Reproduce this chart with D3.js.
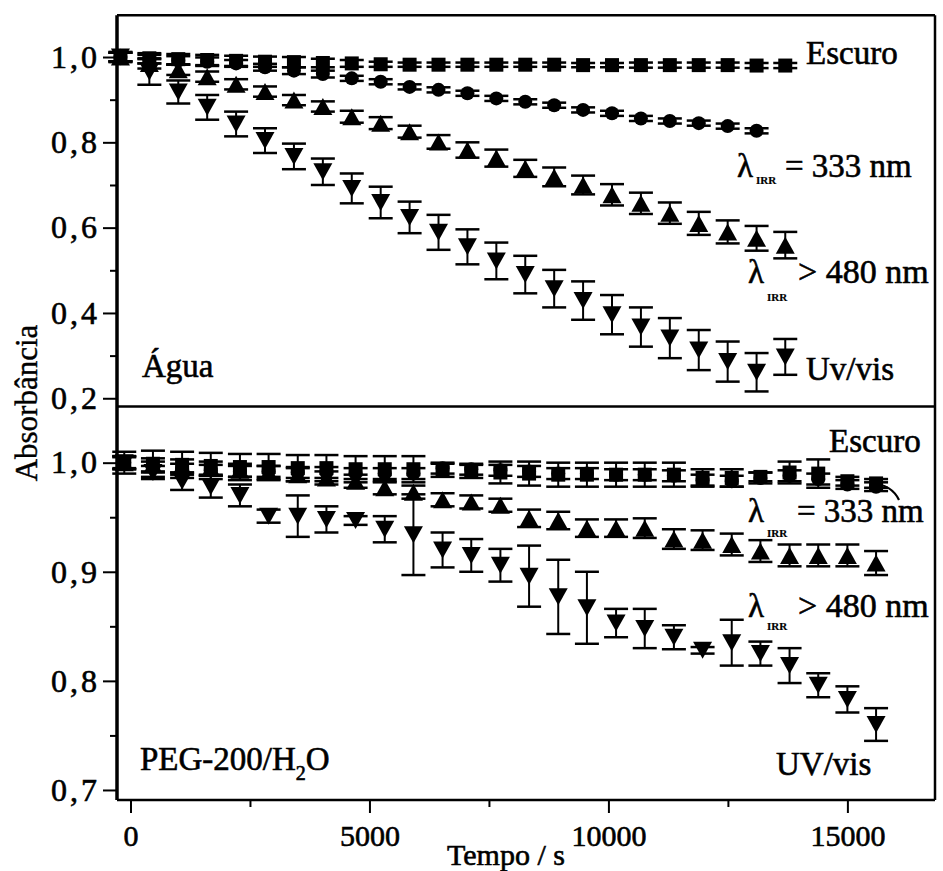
<!DOCTYPE html>
<html>
<head>
<meta charset="utf-8">
<script src="https://cdn.jsdelivr.net/npm/d3@7"></script>
<style>
  html, body { margin: 0; padding: 0; background: #fff; }
  svg { display: block; }
</style>
</head>
<body>
<svg id="chart" width="943" height="871" font-family="Liberation Serif"></svg>
<script>
// ---------- DATA ----------
// Top panel (Água)
const timeTop = [-210, 395, 1000, 1605, 2210, 2815, 3420, 4025, 4630, 5235, 5840, 6445,
  7050, 7655, 8260, 8865, 9470, 10075, 10680, 11285, 11890, 12495, 13100, 13700];
const aguaEscuro = [1.000, 0.997, 0.995, 0.993, 0.991, 0.989, 0.988, 0.986, 0.985, 0.983, 0.982, 0.982,
  0.982, 0.982, 0.982, 0.982, 0.981, 0.981, 0.981, 0.981, 0.981, 0.981, 0.980, 0.980];
const aguaEscuroErr = [0.012, 0.012, 0.012, 0.012, 0.012, 0.012, 0.012, 0.010, 0.008, 0.006, 0.005, 0.005,
  0.005, 0.005, 0.005, 0.005, 0.005, 0.005, 0.006, 0.006, 0.006, 0.006, 0.006, 0.006];
const agua333 = [1.000, 0.995, 0.992, 0.989, 0.985, 0.976, 0.968, 0.960, 0.950, 0.942, 0.930, 0.923,
  0.915, 0.903, 0.895, 0.887, 0.876, 0.868, 0.856, 0.850, 0.845, 0.838, 0.827];
const agua333Err = [0.010, 0.010, 0.010, 0.010, 0.008, 0.008, 0.008, 0.008, 0.006, 0.006, 0.006, 0.006,
  0.006, 0.006, 0.006, 0.006, 0.006, 0.006, 0.006, 0.006, 0.006, 0.006, 0.006];
const agua480 = [1.000, 0.985, 0.970, 0.954, 0.936, 0.919, 0.899, 0.884, 0.860, 0.845, 0.825, 0.801,
  0.782, 0.763, 0.739, 0.719, 0.700, 0.677, 0.657, 0.634, 0.610, 0.590, 0.575, 0.559];
const agua480Err = [0.010, 0.012, 0.012, 0.012, 0.012, 0.012, 0.012, 0.012, 0.014, 0.014, 0.014, 0.016,
  0.018, 0.020, 0.020, 0.022, 0.022, 0.025, 0.025, 0.025, 0.027, 0.027, 0.029, 0.031];
const aguaUV = [1.000, 0.965, 0.918, 0.882, 0.843, 0.804, 0.767, 0.731, 0.692, 0.659, 0.624, 0.589,
  0.555, 0.522, 0.490, 0.457, 0.429, 0.396, 0.367, 0.341, 0.313, 0.286, 0.261, 0.297];
const aguaUVErr = [0.010, 0.030, 0.027, 0.029, 0.029, 0.029, 0.030, 0.031, 0.035, 0.037, 0.037, 0.041,
  0.041, 0.043, 0.044, 0.044, 0.045, 0.046, 0.046, 0.047, 0.047, 0.047, 0.045, 0.042];

// Bottom panel (PEG-200/H2O)
const timeBottom = [-130, 470, 1080, 1680, 2290, 2890, 3500, 4100, 4710, 5320, 5920, 6530, 7130,
  7740, 8340, 8950, 9550, 10160, 10760, 11370, 11970, 12580, 13180, 13790, 14390, 15000, 15600];
const pegEscuro = [1.000, 0.999, 0.998, 0.997, 0.996, 0.996, 0.995, 0.995, 0.994, 0.994, 0.994, 0.993, 0.992,
  0.991, 0.990, 0.989, 0.989, 0.989, 0.989, 0.989, 0.986, 0.986, 0.987, 0.991, 0.990, 0.983, 0.981];
const pegEscuroErr = [0.010, 0.012, 0.012, 0.012, 0.012, 0.012, 0.012, 0.012, 0.012, 0.012, 0.012, 0.006, 0.006,
  0.010, 0.011, 0.011, 0.011, 0.011, 0.011, 0.011, 0.008, 0.008, 0.004, 0.010, 0.013, 0.004, 0.004];
const peg333 = [1.000, 0.996, 0.994, 0.993, 0.992, 0.992, 0.991, 0.991, 0.990, 0.990, 0.990, 0.995, 0.994,
  0.993, 0.992, 0.990, 0.990, 0.989, 0.989, 0.988, 0.984, 0.983, 0.986, 0.988, 0.985, 0.980, 0.978];
const peg333Err = [0.005, 0.005, 0.005, 0.005, 0.005, 0.005, 0.005, 0.005, 0.005, 0.005, 0.005, 0.005, 0.005,
  0.005, 0.005, 0.005, 0.005, 0.005, 0.005, 0.005, 0.005, 0.005, 0.005, 0.005, 0.005, 0.004, 0.004];
const peg480 = [1.000, 0.998, 0.997, 0.995, 0.993, 0.991, 0.989, 0.986, 0.983, 0.977, 0.973, 0.966, 0.964,
  0.961, 0.949, 0.947, 0.940, 0.940, 0.940, 0.930, 0.929, 0.925, 0.919, 0.915, 0.915, 0.915, 0.908];
const peg480Err = [0.006, 0.006, 0.006, 0.006, 0.006, 0.006, 0.006, 0.006, 0.006, 0.006, 0.006, 0.006, 0.006,
  0.006, 0.008, 0.008, 0.008, 0.008, 0.009, 0.009, 0.009, 0.010, 0.010, 0.010, 0.010, 0.010, 0.011];
const pegUV = [1.000, 0.991, 0.983, 0.978, 0.970, 0.951, 0.951, 0.948, 0.947, 0.939, 0.934, 0.920, 0.915,
  0.906, 0.896, 0.877, 0.867, 0.853, 0.848, 0.840, 0.828, 0.835, 0.825, 0.814, 0.796, 0.783, 0.760];
const pegUVErr = [0.006, 0.006, 0.008, 0.010, 0.010, 0.006, 0.019, 0.012, 0.004, 0.012, 0.037, 0.016, 0.015,
  0.015, 0.028, 0.034, 0.033, 0.013, 0.018, 0.011, 0.003, 0.021, 0.011, 0.016, 0.011, 0.012, 0.015];

const xTicks = [0, 5000, 10000, 15000];
const xMinorTicks = [2500, 7500, 12500];
const yTopTicks = [0.2, 0.4, 0.6, 0.8, 1.0];
const yTopMinor = [0.3, 0.5, 0.7, 0.9];
const yBotTicks = [0.7, 0.8, 0.9, 1.0];
const yBotMinor = [0.75, 0.85, 0.95];

// ---------- LAYOUT ----------
const FONT = "Liberation Serif";
const L = 117, R = 935, T = 15.3, MID = 406.5, B = 800;
const svg = d3.select("#chart");

const x = d3.scaleLinear().domain([-282, 16833]).range([L, R]);
const yTop = d3.scaleLinear().domain([0.1807, 1.0978]).range([MID, T]);
const yBot = d3.scaleLinear().domain([0.6908, 1.0515]).range([B, MID]);

const fmt = d => d3.format(".1f")(d).replace(".", ",");

function triPath(w, h, down) {
  const s = down ? -1 : 1;
  return `M0,${-s*h/2}L${w/2},${s*h/2}L${-w/2},${s*h/2}Z`;
}

function drawSeries(g, times, vals, errs, y, shape) {
  const data = vals.map((v, i) => ({ t: times[i], v, e: errs[i] }));
  const capW = 24;
  const eg = g.append("g").attr("stroke", "#000");
  eg.selectAll("line.bar").data(data).join("line")
    .attr("x1", d => x(d.t)).attr("x2", d => x(d.t))
    .attr("y1", d => y(d.v + d.e)).attr("y2", d => y(d.v - d.e))
    .attr("stroke-width", 2);
  eg.selectAll("line.capt").data(data).join("line")
    .attr("x1", d => x(d.t) - capW/2).attr("x2", d => x(d.t) + capW/2)
    .attr("y1", d => y(d.v + d.e)).attr("y2", d => y(d.v + d.e))
    .attr("stroke-width", 2.5);
  eg.selectAll("line.capb").data(data).join("line")
    .attr("x1", d => x(d.t) - capW/2).attr("x2", d => x(d.t) + capW/2)
    .attr("y1", d => y(d.v - d.e)).attr("y2", d => y(d.v - d.e))
    .attr("stroke-width", 2.5);
  const mg = g.append("g").attr("fill", "#000");
  if (shape === "square") {
    mg.selectAll("rect").data(data).join("rect")
      .attr("x", d => x(d.t) - 7).attr("y", d => y(d.v) - 7)
      .attr("width", 14).attr("height", 14);
  } else if (shape === "circle") {
    mg.selectAll("circle").data(data).join("circle")
      .attr("cx", d => x(d.t)).attr("cy", d => y(d.v)).attr("r", 7);
  } else {
    const down = shape === "down";
    mg.selectAll("path").data(data).join("path")
      .attr("d", triPath(19, 17, down))
      .attr("transform", d => `translate(${x(d.t)},${y(d.v)})`);
  }
}

// Series
const gTop = svg.append("g");
drawSeries(gTop, timeTop, aguaEscuro, aguaEscuroErr, yTop, "square");
drawSeries(gTop, timeTop, agua333, agua333Err, yTop, "circle");
drawSeries(gTop, timeTop, agua480, agua480Err, yTop, "up");
drawSeries(gTop, timeTop, aguaUV, aguaUVErr, yTop, "down");

const gBot = svg.append("g");
drawSeries(gBot, timeBottom, pegEscuro, pegEscuroErr, yBot, "square");
drawSeries(gBot, timeBottom, peg333, peg333Err, yBot, "circle");
drawSeries(gBot, timeBottom, peg480, peg480Err, yBot, "up");
drawSeries(gBot, timeBottom, pegUV, pegUVErr, yBot, "down");

// Axes
function styleAxis(g, size) {
  g.attr("font-family", FONT).attr("font-size", size);
  g.select(".domain").remove();
  g.selectAll(".tick line").attr("stroke", "#000").attr("stroke-width", 2);
  g.selectAll(".tick text").attr("font-family", FONT).attr("font-size", size)
    .attr("fill", "#000").attr("stroke", "#000").attr("stroke-width", 0.6);
}

const axTop = svg.append("g").attr("transform", `translate(${L},0)`)
  .call(d3.axisLeft(yTop).tickValues(yTopTicks).tickFormat(fmt).tickSize(14).tickPadding(3));
styleAxis(axTop, 32);
axTop.selectAll(".tick text").style("letter-spacing", "3px");
const axTopMinor = svg.append("g").attr("transform", `translate(${L},0)`)
  .call(d3.axisLeft(yTop).tickValues(yTopMinor).tickFormat("").tickSize(7));
styleAxis(axTopMinor, 10);

const axBot = svg.append("g").attr("transform", `translate(${L},0)`)
  .call(d3.axisLeft(yBot).tickValues(yBotTicks).tickFormat(fmt).tickSize(14).tickPadding(3));
styleAxis(axBot, 32);
axBot.selectAll(".tick text").style("letter-spacing", "3px");
const axBotMinor = svg.append("g").attr("transform", `translate(${L},0)`)
  .call(d3.axisLeft(yBot).tickValues(yBotMinor).tickFormat("").tickSize(7));
styleAxis(axBotMinor, 10);

const axX = svg.append("g").attr("transform", `translate(0,${B})`)
  .call(d3.axisBottom(x).tickValues(xTicks).tickFormat(d3.format("d")).tickSize(13).tickPadding(12));
styleAxis(axX, 30);
const axXMinor = svg.append("g").attr("transform", `translate(0,${B})`)
  .call(d3.axisBottom(x).tickValues(xMinorTicks).tickFormat("").tickSize(7));
styleAxis(axXMinor, 10);

// Frame
const frame = svg.append("g").attr("stroke", "#000").attr("fill", "none");
frame.append("line").attr("x1", L).attr("x2", L).attr("y1", T).attr("y2", B).attr("stroke-width", 3.5);
frame.append("line").attr("x1", R).attr("x2", R).attr("y1", T).attr("y2", B).attr("stroke-width", 2.5);
frame.append("line").attr("x1", L).attr("x2", R).attr("y1", T).attr("y2", T).attr("stroke-width", 2.5);
frame.append("line").attr("x1", L).attr("x2", R).attr("y1", MID).attr("y2", MID).attr("stroke-width", 2.5);
frame.append("line").attr("x1", L).attr("x2", R).attr("y1", B).attr("y2", B).attr("stroke-width", 2.5);

// Labels
function label(txt, px, py, size, anchor) {
  return svg.append("text").attr("x", px).attr("y", py).attr("font-size", size)
    .attr("font-family", FONT).attr("fill", "#000")
    .attr("text-anchor", anchor || "start").attr("stroke", "#000").attr("stroke-width", 0.6).text(txt);
}

// Top panel
label("Escuro", 806, 64, 33);
label("λ", 737, 177, 33);
label("IRR", 756, 184, 11).attr("font-weight", "bold").attr("stroke-width", 0.2);
label("= 333 nm", 785, 177, 33);
label("λ", 748, 283, 33);
label("IRR", 767, 301, 11).attr("font-weight", "bold").attr("stroke-width", 0.2);
label("> 480 nm", 798, 283, 34);
label("Uv/vis", 806, 380, 33);
label("Água", 142, 377, 33);

// Bottom panel
label("Escuro", 829, 452, 33);
label("λ", 748, 522, 33);
label("IRR", 767, 537, 11).attr("font-weight", "bold").attr("stroke-width", 0.2);
label("= 333 nm", 797, 522, 33);
label("λ", 748, 617, 33);
label("IRR", 767, 630, 11).attr("font-weight", "bold").attr("stroke-width", 0.2);
label("> 480 nm", 798, 617, 34);
label("UV/vis", 776, 775, 33);

const peg = label("", 140, 770, 33);
peg.append("tspan").text("PEG-200/H");
peg.append("tspan").attr("font-size", 20).attr("dy", 10).text("2");
peg.append("tspan").attr("dy", -10).text("O");

// Leader curve to the 333 nm series
svg.append("path").attr("d", "M872,483 Q892,485 899,500")
  .attr("fill", "none").attr("stroke", "#000").attr("stroke-width", 2.2);

// Axis titles
svg.append("text").attr("transform", "translate(37,403) rotate(-90)")
  .attr("font-family", FONT).attr("fill", "#000")
  .attr("text-anchor", "middle").attr("font-size", 31)
  .attr("stroke", "#000").attr("stroke-width", 0.4).text("Absorbância");
label("Tempo / s", 506, 865, 30, "middle");
</script>
</body>
</html>
